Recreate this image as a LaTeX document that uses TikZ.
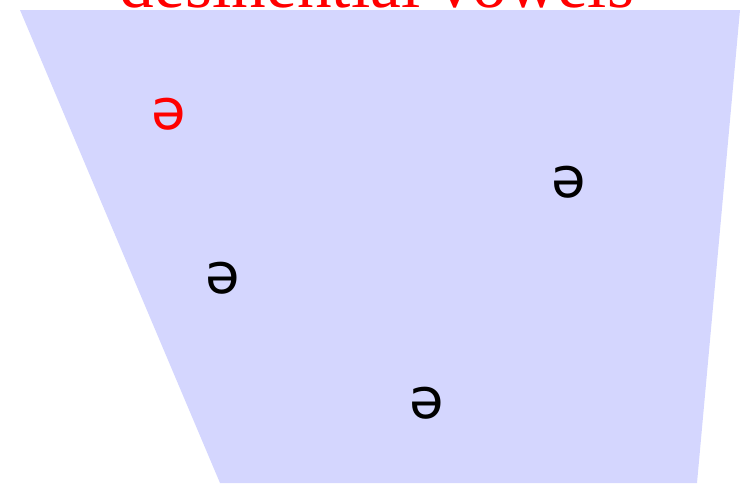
\documentclass[tikz,border=0pt]{standalone}
\usepackage{fontspec}
\setmainfont{Liberation Serif}
\newfontfamily\vowelfont{DejaVu Sans}
\definecolor{TrapFill}{RGB}{212,214,254}
\usetikzlibrary{positioning}

\begin{document}
\begin{tikzpicture}[x=0.75pt,y=-0.75pt,
	vowel/.style={inner sep=0pt,font=\vowelfont\fontsize{42}{42}\selectfont},
	title/.style={inner sep=0pt,anchor=base,text=red,font=\fontsize{52}{52}\selectfont}]
\useasboundingbox (0,0) rectangle (748,483);
% vowel space
\fill[TrapFill] (20,10) -- (740,10) -- (697,483) -- (220,483) -- cycle;
\node[title] (heading) at (377,7) {desinential vowels};
\node[vowel,text=red] (v1) at (169,114) {ə};
\node[vowel] (v2) at (569,182) {ə};
\node[vowel] (v3) at (223,278) {ə};
\node[vowel] (v4) at (427,403) {ə};
\end{tikzpicture}
\end{document}
